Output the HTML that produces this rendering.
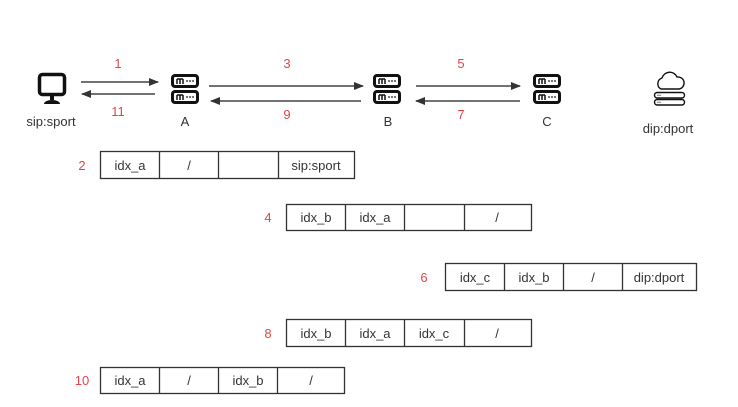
<!DOCTYPE html>
<html><head><meta charset="utf-8"><style>
html,body{margin:0;padding:0;background:#fff;width:738px;height:407px;overflow:hidden}
svg text{font-family:"Liberation Sans",sans-serif;font-size:13px}
.r{fill:#e0464a}.k{fill:#333}
</style></head><body>
<svg width="738" height="407" viewBox="0 0 738 407" xmlns="http://www.w3.org/2000/svg">
<defs>
<marker id="ah" markerWidth="10" markerHeight="8" refX="9" refY="4" orient="auto" markerUnits="userSpaceOnUse"><path d="M0,0L10,4L0,8z" fill="#333"/></marker>
<g id="srv">
<rect x="1.5" y="1.5" width="25" height="11" rx="2.5" fill="none" stroke="#111" stroke-width="3"/>
<rect x="1.5" y="17.5" width="25" height="11" rx="2.5" fill="none" stroke="#111" stroke-width="3"/>
<path d="M6,5v5M9,5v5M12,5v5M6,21v5M9,21v5M12,21v5" stroke="#111" stroke-width="1.5"/>
<path d="M6,5h6M6,21h6" stroke="#111" stroke-width="1.5"/>
<circle cx="16" cy="7" r="0.9" fill="#111"/><circle cx="19" cy="7" r="0.9" fill="#111"/><circle cx="22" cy="7" r="0.9" fill="#111"/>
<circle cx="16" cy="23" r="0.9" fill="#111"/><circle cx="19" cy="23" r="0.9" fill="#111"/><circle cx="22" cy="23" r="0.9" fill="#111"/>
</g>
</defs>
<rect x="39.5" y="74.5" width="25" height="20" rx="3" fill="none" stroke="#111" stroke-width="3.5"/>
<rect x="50" y="95" width="4" height="5" fill="#111"/>
<path d="M44,104a8,4 0 0 1 16,0z" fill="#111"/>
<use href="#srv" x="171" y="74"/>
<use href="#srv" x="373" y="74"/>
<use href="#srv" x="533" y="74"/>
<path d="M661,89a6,6 0 0 1 1,-11a8,8 0 0 1 15,-1a6,6 0 0 1 2,12z" fill="none" stroke="#111" stroke-width="1.4"/>
<rect x="654.5" y="92.5" width="30" height="5.5" rx="2.7" fill="none" stroke="#111" stroke-width="1.4"/>
<rect x="654.5" y="99.5" width="30" height="5.5" rx="2.7" fill="none" stroke="#111" stroke-width="1.4"/>
<circle cx="658" cy="95.2" r="0.6" fill="#111"/><circle cx="660" cy="95.2" r="0.6" fill="#111"/>
<circle cx="658" cy="102.2" r="0.6" fill="#111"/><circle cx="660" cy="102.2" r="0.6" fill="#111"/>
<g stroke="#444" stroke-width="1.5" fill="none">
<line x1="81" y1="82" x2="158" y2="82" marker-end="url(#ah)"/>
<line x1="155" y1="94" x2="82" y2="94" marker-end="url(#ah)"/>
<line x1="209" y1="86" x2="363" y2="86" marker-end="url(#ah)"/>
<line x1="361" y1="101" x2="211" y2="101" marker-end="url(#ah)"/>
<line x1="416" y1="86" x2="520" y2="86" marker-end="url(#ah)"/>
<line x1="520" y1="101" x2="416" y2="101" marker-end="url(#ah)"/>
</g>
<g text-anchor="middle">
<text class="r" x="118" y="68">1</text>
<text class="r" x="118" y="116">11</text>
<text class="r" x="287" y="68">3</text>
<text class="r" x="287" y="119">9</text>
<text class="r" x="461" y="68">5</text>
<text class="r" x="461" y="119">7</text>
<text class="k" x="51" y="126">sip:sport</text>
<text class="k" x="185" y="126">A</text>
<text class="k" x="388" y="126">B</text>
<text class="k" x="547" y="126">C</text>
<text class="k" x="668" y="133">dip:dport</text>
</g>
<g fill="none" stroke="#333" stroke-width="1.3">
<rect x="100.5" y="151.5" width="254" height="27"/><path d="M159.5,151v28M218.5,151v28M278.5,151v28"/>
<rect x="286.5" y="204.5" width="245" height="26"/><path d="M345.5,204v27M404.5,204v27M464.5,204v27"/>
<rect x="445.5" y="263.5" width="251" height="27"/><path d="M504.5,263v28M563.5,263v28M622.5,263v28"/>
<rect x="286.5" y="319.5" width="245" height="27"/><path d="M345.5,319v28M404.5,319v28M464.5,319v28"/>
<rect x="100.5" y="367.5" width="244" height="26"/><path d="M159.5,367v27M218.5,367v27M277.5,367v27"/>
</g>
<g text-anchor="middle" class="k">
<text class="k" x="130" y="170">idx_a</text><text class="k" x="189" y="170">/</text><text class="k" x="316" y="170">sip:sport</text>
<text class="k" x="316" y="222">idx_b</text><text class="k" x="375" y="222">idx_a</text><text class="k" x="497" y="222">/</text>
<text class="k" x="475" y="282">idx_c</text><text class="k" x="534" y="282">idx_b</text><text class="k" x="593" y="282">/</text><text class="k" x="659" y="282">dip:dport</text>
<text class="k" x="316" y="338">idx_b</text><text class="k" x="375" y="338">idx_a</text><text class="k" x="434" y="338">idx_c</text><text class="k" x="497" y="338">/</text>
<text class="k" x="130" y="385">idx_a</text><text class="k" x="189" y="385">/</text><text class="k" x="248" y="385">idx_b</text><text class="k" x="311" y="385">/</text>
<text class="r" x="82" y="170">2</text>
<text class="r" x="268" y="222">4</text>
<text class="r" x="424" y="282">6</text>
<text class="r" x="268" y="338">8</text>
<text class="r" x="82" y="385">10</text>
</g>
</svg>
</body></html>
